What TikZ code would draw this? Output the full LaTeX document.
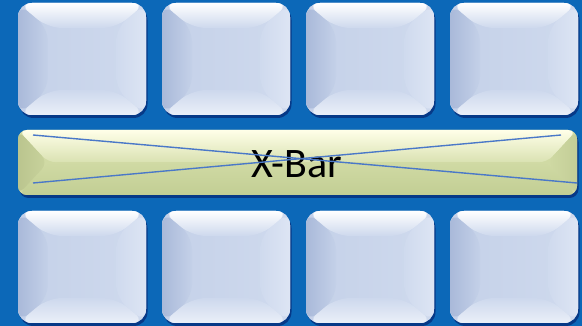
\documentclass[tikz,border=0pt]{standalone}
\usepackage{fontspec}
\setmainfont{Carlito}
\usetikzlibrary{calc,shadows}
\definecolor{bgblue}{HTML}{0C68B8}
\definecolor{tilecol}{HTML}{C9D5EB}
\definecolor{tiledark}{HTML}{A9B9D9}
\definecolor{tilelight}{HTML}{DDE5F4}
\definecolor{barcol}{HTML}{D0DAA4}
\definecolor{bartop}{HTML}{FFFFE8}
\definecolor{barbot}{HTML}{C2CE94}
\definecolor{barleft}{HTML}{BAC58E}
\definecolor{xline}{HTML}{4A78C8}
\tikzset{
  tilebox/.style={rounded corners=14pt, minimum width=128pt, minimum height=112pt,
    inner sep=0pt, fill=tilecol,
    drop shadow={shadow xshift=1.5pt, shadow yshift=-3pt, opacity=0.45, fill=black!70!blue},
    path picture={
      \coordinate (NW) at (path picture bounding box.north west);
      \coordinate (NE) at (path picture bounding box.north east);
      \coordinate (SW) at (path picture bounding box.south west);
      \coordinate (SE) at (path picture bounding box.south east);
      \shade[left color=tilecol!85!tiledark, right color=tilecol!70!tilelight] (SW) rectangle (NE);
      \shade[left color=tiledark, right color=tilecol!85!tiledark]
        (NW) -- ($(NW)+(30pt,-25pt)$) -- ($(SW)+(30pt,25pt)$) -- (SW) -- cycle;
      \shade[left color=tilecol!70!tilelight, right color=tilelight]
        (NE) -- ($(NE)+(-30pt,-25pt)$) -- ($(SE)+(-30pt,25pt)$) -- (SE) -- cycle;
      \shade[top color=white, bottom color=tilecol!80!tilelight]
        (NW) -- (NE) -- ($(NE)+(-30pt,-25pt)$) -- ($(NW)+(30pt,-25pt)$) -- cycle;
      \shade[bottom color=tilelight!60!white, top color=tilecol!80!tilelight]
        (SW) -- (SE) -- ($(SE)+(-30pt,25pt)$) -- ($(SW)+(30pt,25pt)$) -- cycle;
    }},
  barbox/.style={rounded corners=9pt, minimum width=559pt, minimum height=65pt,
    inner sep=0pt, fill=barcol,
    drop shadow={shadow xshift=1.5pt, shadow yshift=-3pt, opacity=0.45, fill=black!70!blue},
    path picture={
      \coordinate (NW) at (path picture bounding box.north west);
      \coordinate (NE) at (path picture bounding box.north east);
      \coordinate (SW) at (path picture bounding box.south west);
      \coordinate (SE) at (path picture bounding box.south east);
      \coordinate (ML) at ($(path picture bounding box.west)+(30pt,0pt)$);
      \coordinate (MR) at ($(path picture bounding box.east)+(-30pt,0pt)$);
      \shade[top color=bartop, bottom color=barcol!80!bartop]
        (NW) -- (NE) -- (MR) -- (ML) -- cycle;
      \shade[top color=barcol, bottom color=barbot]
        (SW) -- (SE) -- (MR) -- (ML) -- cycle;
      \shade[left color=barleft, right color=barcol!70!barleft]
        (NW) -- (ML) -- (SW) -- cycle;
      \shade[left color=barcol, right color=barleft!60!barcol]
        (NE) -- (MR) -- (SE) -- cycle;
    }},
  xbar/.style={draw=xline, line width=1.4pt},
  bartext/.style={font=\fontsize{42}{48}\selectfont, text=black}
}
\begin{document}
\begin{tikzpicture}[x=1pt,y=-1pt]
\fill[bgblue] (0,0) rectangle (582,326);
\useasboundingbox (0,0) rectangle (582,326);
\node[tilebox] (t1) at (82,59) {};
\node[tilebox] (t2) at (226,59) {};
\node[tilebox] (t3) at (370,59) {};
\node[tilebox] (t4) at (514,59) {};
\node[tilebox] (b1) at (82,267) {};
\node[tilebox] (b2) at (226,267) {};
\node[tilebox] (b3) at (370,267) {};
\node[tilebox] (b4) at (514,267) {};
\node[barbox] (bar) at (297.5,162.5) {};
\node[bartext] (lbl) at (297,164) {X-Bar};
\coordinate (la) at (33,135);
\coordinate (lb) at (577,183);
\coordinate (lc) at (33,183);
\coordinate (ld) at (561,135);
\draw[xbar] (la) -- (lb);
\draw[xbar] (lc) -- (ld);
\end{tikzpicture}
\end{document}
